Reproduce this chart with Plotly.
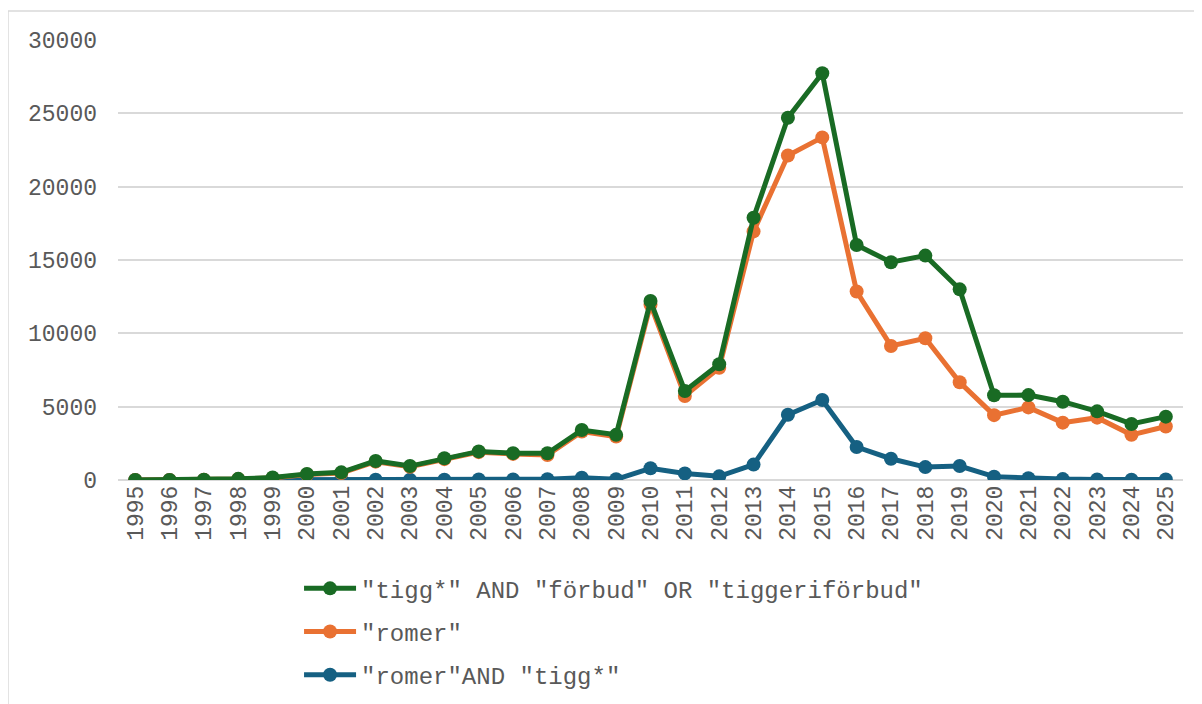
import plotly.graph_objects as go

years = [str(y) for y in range(1995, 2026)]

# "tigg*" AND "förbud" OR "tiggeriförbud"
tigg_forbud = [0, 0, 20, 80, 170, 410, 520, 1300, 950, 1480, 1950, 1830, 1820, 3410,
               3080, 12200, 6070, 7890, 17880, 24700, 27730, 16020, 14850, 15300,
               13000, 5780, 5790, 5340, 4680, 3820, 4320]
# "romer"
romer = [0, 0, 10, 60, 140, 380, 480, 1250, 900, 1420, 1900, 1780, 1700, 3300,
         2960, 11950, 5730, 7650, 16950, 22120, 23360, 12850, 9140, 9660,
         6660, 4420, 4950, 3910, 4250, 3080, 3650]
# "romer"AND "tigg*"
romer_tigg = [0, 0, 0, 5, 10, 20, 30, 20, 15, 20, 40, 30, 50, 150,
              50, 800, 450, 250, 1050, 4450, 5450, 2250, 1450, 880,
              950, 230, 120, 60, 30, 20, 30]

names = ['"tigg*" AND "förbud" OR "tiggeriförbud"', '"romer"', '"romer"AND "tigg*"']
colors = ['#196B24', '#E97132', '#156082']
series = [tigg_forbud, romer, romer_tigg]

FONT = 'Liberation Mono, Courier New, monospace'

fig = go.Figure()
# draw blue first, green last so green sits on top
for i in [2, 1, 0]:
    fig.add_trace(go.Scatter(
        x=years, y=series[i], name=names[i],
        mode='lines+markers',
        line=dict(color=colors[i], width=5),
        marker=dict(color=colors[i], size=14),
        legendgroup=str(i), legendrank=i + 1,
    ))

fig.update_layout(
    width=1202, height=704,
    paper_bgcolor='white', plot_bgcolor='white',
    margin=dict(l=110, r=27, t=32, b=232),
    font=dict(family=FONT, size=23, color='#595959'),
    xaxis=dict(
        type='category', range=[-0.5, 30.5],
        tickangle=-90, showgrid=False,
        tickfont=dict(size=23, color='#595959'),
        showline=False, zeroline=False,
    ),
    yaxis=dict(
        range=[0, 30000], dtick=5000, tickformat='d',
        gridcolor='#d9d9d9', gridwidth=1.5,
        zeroline=True, zerolinecolor='#d9d9d9', zerolinewidth=1.5,
        tickfont=dict(size=23, color='#595959'),
        ticklabelstandoff=20,
        showline=False,
    ),
    legend=dict(
        orientation='v', x=0.170, y=-0.196, xanchor='left', yanchor='top',
        font=dict(size=24, color='#595959', family=FONT),
        tracegroupgap=9, traceorder='grouped', itemwidth=52,
        bgcolor='rgba(0,0,0,0)',
    ),
    showlegend=True,
    shapes=[dict(
        type='rect', xref='paper', yref='paper',
        x0=-0.1033, x1=1.03, y0=-0.55, y1=1.066,
        line=dict(color='#d9d9d9', width=1.5), layer='below',
    )],
)

fig.write_html("out.html")
